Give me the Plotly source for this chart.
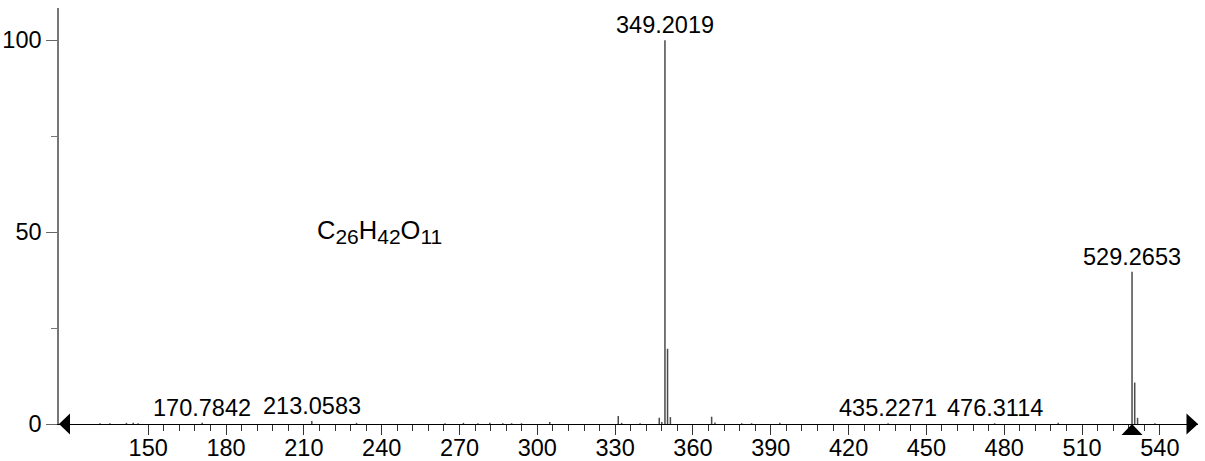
import plotly.graph_objects as go

# ---- data ----
mz = [131.4, 135.2, 141.6, 144.2, 146.1, 170.7842, 213.0583, 230.3, 264.4, 271.5,
      277.1, 281.7, 286.7, 290.1, 293.9, 304.8, 331.2, 332.5, 339.6, 347.0,
      348.0, 349.2019, 350.2, 351.3, 367.2, 368.5, 378.8, 382.6, 393.5, 435.2271,
      476.3114, 500.8, 529.2653, 530.3, 531.4, 538.1]
intensity = [0.2, 0.2, 0.3, 0.3, 0.2, 0.3, 0.8, 0.3, 0.2, 0.3,
             0.2, 0.3, 0.2, 0.2, 0.2, 0.5, 2.1, 0.3, 0.2, 1.6,
             0.5, 100.0, 19.6, 1.8, 1.9, 0.4, 0.2, 0.2, 0.3, 0.2,
             0.2, 0.3, 39.7, 10.8, 1.6, 0.2]
labeled_mz = [170.7842, 213.0583, 349.2019, 435.2271, 476.3114, 529.2653]
labeled_int = [0.3, 0.8, 100.0, 0.2, 0.2, 39.7]
precursor_mz = 529.2653
formula = ("C<sub><span style='font-size:21px'>26</span></sub>"
           "H<sub><span style='font-size:21px'>42</span></sub>"
           "O<sub><span style='font-size:21px'>11</span></sub>")
formula_pos = (239.3, 50)
x_ticks = [150, 180, 210, 240, 270, 300, 330, 360, 390, 420, 450, 480, 510, 540]
y_ticks = [0, 50, 100]
x_range = [115.6, 554.7]

FONT = "Liberation Sans, Arial, Helvetica, sans-serif"
FS = 23.5

# stems
sx, sy = [], []
for m, v in zip(mz, intensity):
    sx += [m, m, None]
    sy += [0, v, None]

fig = go.Figure()
fig.add_trace(go.Scatter(x=sx, y=sy, mode="lines",
                         line=dict(color="#4a4a4a", width=1.5),
                         hoverinfo="skip", showlegend=False))

for m, v in zip(labeled_mz, labeled_int):
    fig.add_annotation(x=m, y=v, text=f"{m:.4f}", showarrow=False,
                       xanchor="center", yanchor="bottom", yshift=0,
                       font=dict(size=FS, color="black", family=FONT))

fig.add_annotation(x=formula_pos[0], y=formula_pos[1], text=formula, showarrow=False,
                   xanchor="center", yanchor="middle",
                   font=dict(size=25.5, color="black", family=FONT))

tri = dict(type="path", xref="x", yref="y domain", xsizemode="pixel", ysizemode="pixel",
           yanchor=0, fillcolor="black", line=dict(color="black", width=0))
# precursor triangle below the axis
fig.add_shape(xanchor=precursor_mz, path="M-10.5,-11 L10.5,-11 L0,0 Z", **tri)
# axis arrows
fig.add_shape(xanchor=x_range[0], path="M0,0 L11,10.5 L11,-10.5 Z", **tri)
fig.add_shape(xanchor=x_range[1], path="M0,0 L-11.5,10.5 L-11.5,-10.5 Z", **tri)

minor_vals = [v for v in range(150, 541, 6)]

fig.update_layout(
    width=1205, height=461,
    margin=dict(l=59, r=7, t=8, b=37),
    paper_bgcolor="white", plot_bgcolor="white",
    font=dict(family=FONT, size=FS, color="black"),
    xaxis=dict(range=x_range, tickvals=x_ticks, ticks="outside", ticklen=10,
               tickwidth=1.3, tickcolor="#333", showline=True, linecolor="black",
               linewidth=1.3, showgrid=False, zeroline=False, automargin=False,
               ticklabelstandoff=-7,
               tickfont=dict(size=FS, family=FONT),
               minor=dict(tickvals=minor_vals, ticks="outside", ticklen=6,
                          tickcolor="#333", tickwidth=1.1, showgrid=False)),
    yaxis=dict(range=[0, 108.4], tickvals=y_ticks, ticks="outside", ticklen=11,
               tickwidth=1.2, tickcolor="#666", showline=True, linecolor="#777",
               linewidth=1.5, showgrid=False, zeroline=False, automargin=False,
               tickfont=dict(size=FS, family=FONT),
               minor=dict(dtick=25, ticks="outside", ticklen=6, tickcolor="#777",
                          tickwidth=1.1, showgrid=False)),
)

fig.write_html("out.html", config={"displayModeBar": False},
               post_script="document.body.style.margin='0';document.body.style.overflow='hidden';")
